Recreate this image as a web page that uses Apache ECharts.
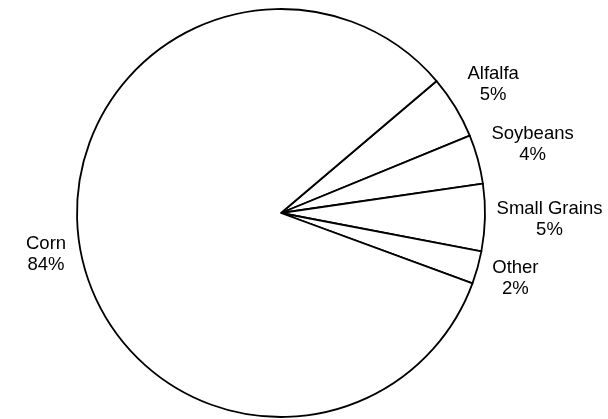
<!DOCTYPE html>
<html>
<head>
<meta charset="utf-8">
<script src="https://cdn.jsdelivr.net/npm/echarts@6/dist/echarts.min.js"></script>
<style>
html,body{margin:0;padding:0;background:#fff;}
#chart{width:608px;height:419px;}
</style>
</head>
<body>
<div id="chart"></div>
<script>
var categories = ['Alfalfa', 'Soybeans', 'Small Grains', 'Other', 'Corn'];
var values = [5.0, 3.9, 5.3, 2.6, 83.2];
var pctLabels = ['5%', '4%', '5%', '2%', '84%'];

var CX = 281, CY = 213, R = 204, START = 40.3, GAP = 12;

var total = values.reduce(function (a, b) { return a + b; }, 0);
function midAngle(i) {
  var before = 0;
  for (var k = 0; k < i; k++) before += values[k];
  return (START - (before + values[i] / 2) / total * 360) * Math.PI / 180;
}

var chart = echarts.init(document.getElementById('chart'), null, {renderer: 'canvas'});
chart.setOption({
  animation: false,
  backgroundColor: '#ffffff',
  series: [{
    type: 'pie',
    center: [CX, CY],
    radius: [0, R],
    startAngle: START,
    clockwise: true,
    avoidLabelOverlap: false,
    silent: true,
    data: categories.map(function (c, i) { return {name: c, value: values[i]}; }),
    itemStyle: {color: '#ffffff', borderColor: '#000000', borderWidth: 1.8},
    emphasis: {disabled: true},
    labelLine: {show: false},
    label: {
      show: true,
      position: 'outside',
      formatter: function (p) { return '{a|' + p.name + '}\n{a|' + pctLabels[p.dataIndex] + '}'; },
      rich: {a: {fontSize: 18.5, lineHeight: 21, fontFamily: 'Liberation Sans, Arial, sans-serif', color: '#000', align: 'center'}}
    },
    labelLayout: function (params) {
      var a = midAngle(params.dataIndex);
      var ux = Math.cos(a), uy = -Math.sin(a);
      var hw = params.labelRect.width / 2, hh = params.labelRect.height / 2;
      var ox = -(ux >= 0 ? 1 : -1) * hw, oy = -(uy >= 0 ? 1 : -1) * hh;
      var d = ux * ox + uy * oy;
      var RR = R + GAP;
      var t = -d + Math.sqrt(d * d - (ox * ox + oy * oy) + RR * RR);
      return {x: CX + t * ux, y: CY + t * uy, align: 'center', verticalAlign: 'middle'};
    }
  }]
});
</script>
</body>
</html>
